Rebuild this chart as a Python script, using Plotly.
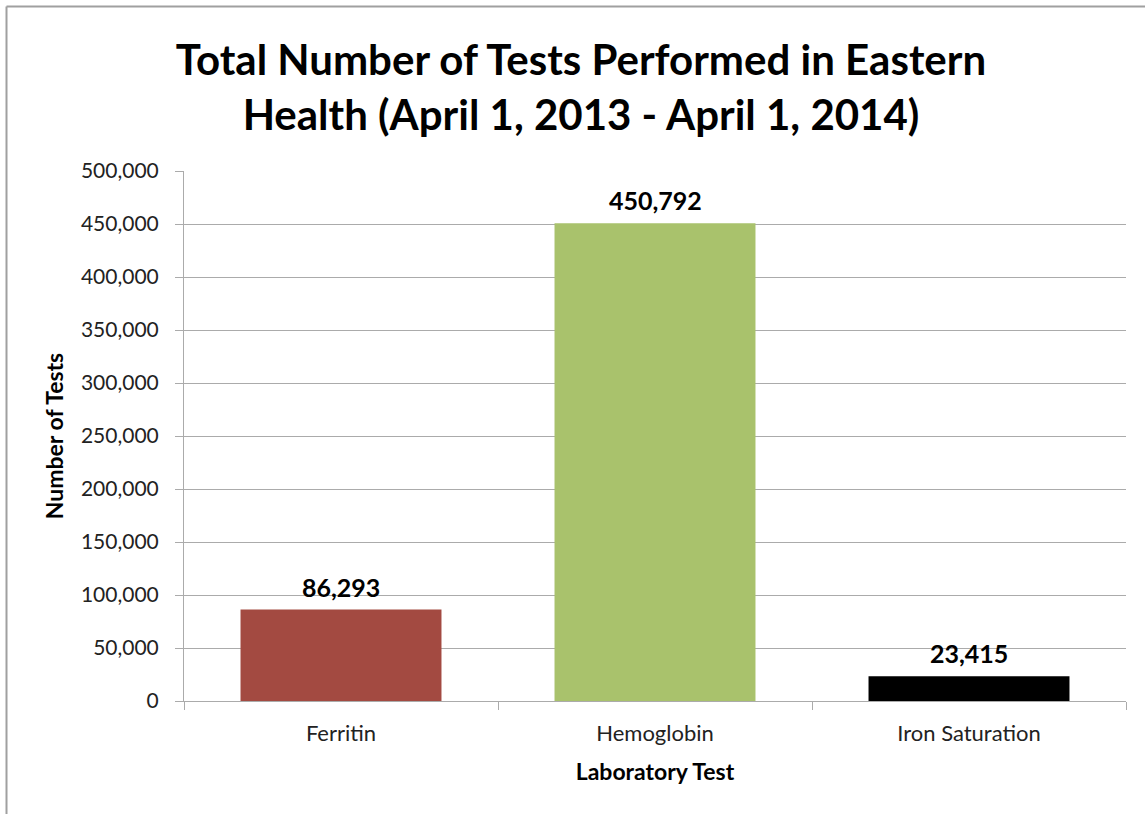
import plotly.graph_objects as go

# Laboratory test volumes, April 1, 2013 - April 1, 2014
tests = ["Ferritin", "Hemoglobin", "Iron Saturation"]
counts = [86293, 450792, 23415]
bar_colors = ["#A34A41", "#A9C26C", "#000000"]
y_ticks = list(range(0, 500001, 50000))

W, H = 1145, 814
L, R, T, B = 184, 19, 171, 113
pw, ph = W - L - R, H - T - B

FONT = "Lato, 'Open Sans', sans-serif"
GRID = "#ABABAB"

fig = go.Figure(
    go.Bar(
        x=tests,
        y=counts,
        marker=dict(color=bar_colors, line=dict(width=0)),
        hoverinfo="skip",
    )
)

# value labels above each bar
for name, v in zip(tests, counts):
    fig.add_annotation(
        x=name, y=v, text=f"<b>{v:,}</b>", showarrow=False,
        xanchor="center", yanchor="bottom", yshift=6,
        font=dict(family=FONT, size=25, color="#000000"),
    )

# outer frame of the chart area (left and top edges visible)
def px_x(p):
    return (p - L) / pw

def px_y(p):
    return 1 - (p - T) / ph

frame = dict(color="#A0A0A0", width=2)
fig.add_shape(type="line", xref="paper", yref="paper",
              x0=px_x(6.5), x1=px_x(W + 5), y0=px_y(6.5), y1=px_y(6.5), line=frame)
fig.add_shape(type="line", xref="paper", yref="paper",
              x0=px_x(6.5), x1=px_x(6.5), y0=px_y(6.5), y1=px_y(H + 5), line=frame)

fig.update_layout(
    width=W,
    height=H,
    margin=dict(l=L, r=R, t=T, b=B),
    paper_bgcolor="white",
    plot_bgcolor="white",
    bargap=0.36,
    showlegend=False,
    font=dict(family=FONT, color="#222222"),
    title=dict(
        text="Total Number of Tests Performed in Eastern<br>Health (April 1, 2013 - April 1, 2014)",
        x=581 / W,
        xanchor="center",
        y=1 - 75 / H,
        yanchor="middle",
        font=dict(family=FONT, size=42, color="#000000", weight="bold"),
    ),
    xaxis=dict(
        type="category",
        tickson="boundaries",
        ticks="outside",
        ticklen=8,
        tickcolor=GRID,
        tickwidth=1,
        showline=True,
        linecolor=GRID,
        linewidth=1,
        showgrid=False,
        ticklabelstandoff=13,
        tickfont=dict(family=FONT, size=22, color="#222222"),
        title=dict(text="<b>Laboratory Test</b>", font=dict(family=FONT, size=23, color="#000000"), standoff=18),
    ),
    yaxis=dict(
        range=[0, 500000],
        tickvals=y_ticks,
        tickformat=",",
        ticks="outside",
        ticklen=8,
        tickcolor=GRID,
        tickwidth=1,
        showline=True,
        linecolor=GRID,
        linewidth=1,
        showgrid=True,
        gridcolor=GRID,
        gridwidth=1,
        zeroline=False,
        ticklabelstandoff=12,
        tickfont=dict(family=FONT, size=21, color="#222222"),
        title=dict(text="<b>Number of Tests</b>", font=dict(family=FONT, size=23, color="#000000"), standoff=10),
    ),
)

fig.write_html("out.html")
